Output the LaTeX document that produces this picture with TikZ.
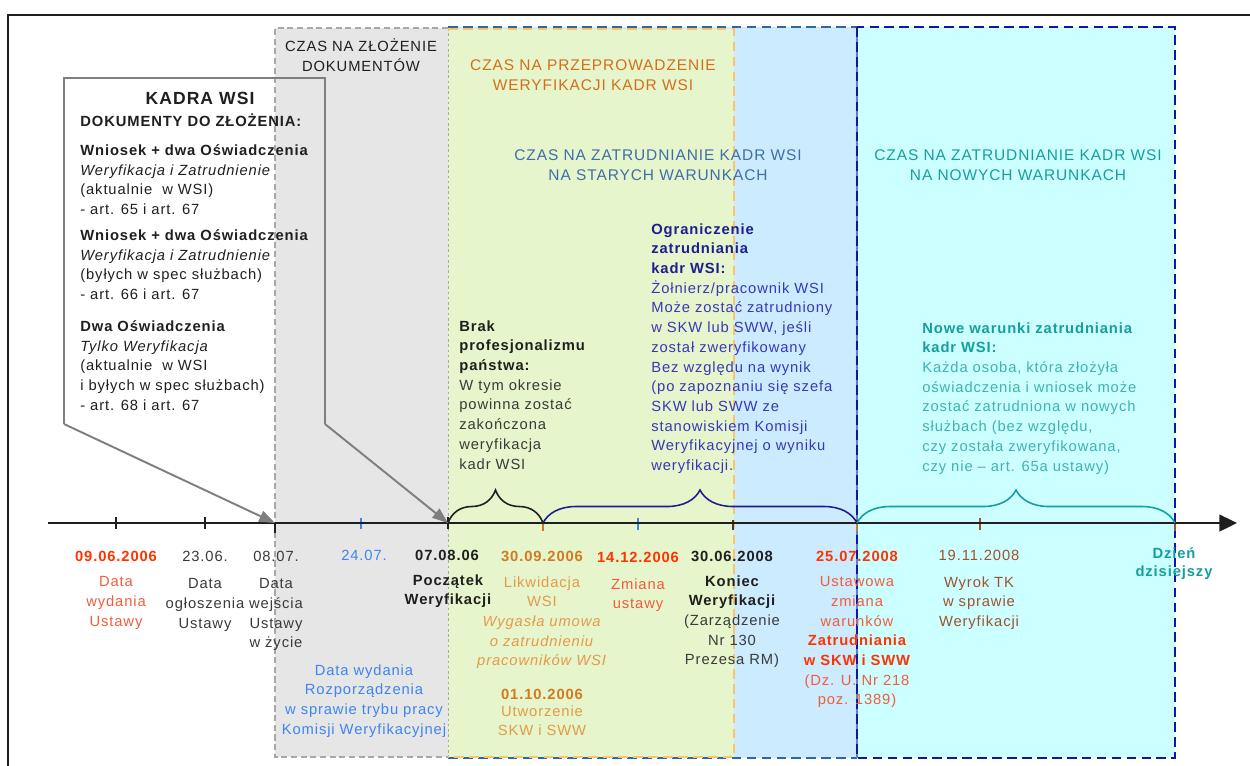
\documentclass[tikz,border=0pt]{standalone}
\usepackage{fontspec}
\setmainfont{Liberation Sans}[LetterSpace=6]
\usetikzlibrary{arrows.meta,decorations.pathreplacing}
\definecolor{fg}{HTML}{1F1F1F}
\definecolor{tgray}{HTML}{3A3A3A}
\definecolor{kgray}{HTML}{7F7F7F}
% Zeitfenster
\definecolor{zgray}{HTML}{E6E6E6}
\definecolor{zgrayln}{HTML}{A8A8A8}
\definecolor{zyel}{HTML}{E6F5CC}
\definecolor{zyelln}{HTML}{F7C66A}
\definecolor{zblue}{HTML}{CCEBFF}
\definecolor{zblueln}{HTML}{2F66AA}
\definecolor{zbluesep}{HTML}{5E80C8}
\definecolor{zcyan}{HTML}{CCFFFF}
\definecolor{zcyanln}{HTML}{1414A8}
% Schrift
\definecolor{horange}{HTML}{D2701A}
\definecolor{hblue}{HTML}{3E6FA6}
\definecolor{tealb}{HTML}{169E9E}
\definecolor{teall}{HTML}{40B2B2}
\definecolor{navy}{HTML}{1E1E8E}
\definecolor{navyl}{HTML}{3838B8}
\definecolor{dred}{HTML}{FF3300}
\definecolor{lred}{HTML}{F25C3C}
\definecolor{lblue}{HTML}{3D85F0}
\definecolor{dorange}{HTML}{D47A1E}
\definecolor{lorange}{HTML}{E49A48}
\definecolor{dbrown}{HTML}{A0522D}
\newcommand{\lblsize}{\fontsize{8.4}{11.2}\selectfont}
\newcommand{\hdrsize}{\fontsize{8.8}{11.4}\selectfont}
\tikzset{
  every picture/.style={fg, line join=miter},
  every node/.style={font=\lblsize, inner sep=0pt},
  % Ränder der Zeitfenster
  zoneln/.style={line width=1.1pt, dash pattern=on 5.5pt off 3pt},
  % Beschriftung: Position = Grundlinie der ersten Zeile (Strut 0.7 x 11.2pt)
  lbl/.style={align=center, anchor=north, yshift=7.84pt, execute at begin node=\strut},
  blk/.style={align=left, anchor=north west, yshift=7.84pt, execute at begin node=\strut},
  one/.style={align=center, anchor=base},
  bold/.style={font=\lblsize\bfseries},
  hdr/.style={font=\hdrsize},
  % Legende mit Zeigern
  kline/.style={kgray, line width=1.1pt, >={Triangle[length=9pt,width=6.5pt]}},
  axis/.style={fg, line width=1.1pt, -{Triangle[length=10pt,width=9.5pt]}},
  tick/.style={line width=0.6pt},
  span/.style={line width=0.9pt, decorate, decoration={brace, amplitude=0.66cm}},
}

\begin{document}
\begin{tikzpicture}[x=0.02cm, y=-0.02cm]
  \useasboundingbox (0,0) rectangle (1250,765);
  % Rahmen, nur oben und links im Bild
  \draw[fg, line width=1.2pt] (8,800) -- (8,15) -- (1280,15);
  % Zeitfenster: Flächen
  \fill[zgray] (275,28) rectangle (448,757);
  \fill[zblue] (448,27) rectangle (857,758);
  \fill[zyel] (448,29) rectangle (734,757);
  \fill[zcyan] (857,27) rectangle (1175,758);
  % Zeitfenster: Ränder
  \draw[zgrayln, line width=0.6pt, dash pattern=on 3.5pt off 2pt] (448,28) -- (275,28) -- (275,757) -- (448,757);
  \draw[zgrayln, line width=0.5pt, dash pattern=on 1.5pt off 1.5pt] (448,28) -- (448,757);
  \draw[zoneln, zblueln] (448,758) -- (857,758) (448,27) -- (857,27);
  \draw[zoneln, zyelln] (448,29) -- (734,29) -- (734,757) -- (448,757);
  \draw[zbluesep, line width=1.1pt] (857,27) -- (857,758);
  \draw[zoneln, zcyanln] (857,27) rectangle (1175,758);
  % Überschriften
  \node[lbl, fg] (hDok) at (361,52) {CZAS NA ZŁOŻENIE\\DOKUMENTÓW};
  \node[lbl, hdr, horange] (hWer) at (593,73) {CZAS NA PRZEPROWADZENIE\\WERYFIKACJI KADR WSI};
  \node[lbl, hdr, hblue] (hStare) at (658,163) {CZAS NA ZATRUDNIANIE KADR WSI\\NA STARYCH WARUNKACH};
  \node[lbl, hdr, tealb] (hNowe) at (1018,163) {CZAS NA ZATRUDNIANIE KADR WSI\\NA NOWYCH WARUNKACH};
  % Zeitachse
  \coordinate (ax0) at (48,523);
  \coordinate (ax1) at (1237,523);
  \foreach \n/\x in {0906/116, 2306/205, 0807/275, 2407/361, 0708/448, 3009/543,
                     1412/638, 3006/733, 2507/857, 1911/980, now/1175}
    \coordinate (t\n) at (\x,523);
  \foreach \n/\c/\u/\l in {0906/fg/-6/12, 2306/fg/-6/12, 0807/fg/0/10, 2407/lblue/-5/11,
                           0708/fg/-6/12, 3009/dorange/0/8, 1412/lblue/-5/12, 3006/tgray/-3/10,
                           2507/dorange/0/8, 1911/dbrown/-5/12, now/dbrown/0/8}
    \draw[tick, \c] (t\n) ++(0,\u) -- ++(0,\l);
  \draw[axis] (ax0) -- (ax1);
  % Klammern über der Achse
  \draw[span, fg] (t0708) -- (t3009);
  \draw[span, navy] (t3009) -- (t2507);
  \draw[span, tealb] (t2507) -- (tnow);
  % Legende KADRA WSI mit zwei Zeigern
  \coordinate (kSW) at (64,424);
  \coordinate (kNE) at (325,78);
  \coordinate (kSE) at (325,424);
  \draw[kline] (kSW) |- (kNE) -- (kSE);
  \draw[kline, ->] (kSW) -- (t0807);
  \draw[kline, ->] (kSE) -- (t0708);
  \node[one, font=\fontsize{10}{12}\selectfont\bfseries] (kTitle) at (200,104) {KADRA WSI};
  \node[blk, bold] (kSub) at (80,126) {DOKUMENTY DO ZŁOŻENIA:};
  \node[blk] (kDoc1) at (80,158) {\textbf{Wniosek + dwa Oświadczenia}\\\textit{Weryfikacja i Zatrudnienie}\\(aktualnie~ w WSI)\\- art. 65 i art. 67};
  \node[blk] (kDoc2) at (80,243) {\textbf{Wniosek + dwa Oświadczenia}\\\textit{Weryfikacja i Zatrudnienie}\\(byłych w spec służbach)\\- art. 66 i art. 67};
  \node[blk] (kDoc3) at (80,334) {\textbf{Dwa Oświadczenia}\\\textit{Tylko Weryfikacja}\\(aktualnie~ w WSI\\i byłych w spec służbach)\\- art. 68 i art. 67};
  % Erläuterungen in den Zeitfenstern
  \node[blk, tgray] (nBrak) at (459,334) {\textbf{\color{fg}Brak}\\\textbf{\color{fg}profesjonalizmu}\\\textbf{\color{fg}państwa:}\\W tym okresie\\powinna zostać\\zakończona\\weryfikacja\\kadr WSI};
  \node[blk, navyl] (nOgr) at (651,237) {\textbf{\color{navy}Ograniczenie}\\\textbf{\color{navy}zatrudniania}\\\textbf{\color{navy}kadr WSI:}\\Żołnierz/pracownik WSI\\Może zostać zatrudniony\\w SKW lub SWW, jeśli\\został zweryfikowany\\Bez względu na wynik\\(po zapoznaniu się szefa\\SKW lub SWW ze\\stanowiskiem Komisji\\Weryfikacyjnej o wyniku\\weryfikacji.};
  \node[blk, teall] (nNowe) at (922,336) {\textbf{\color{tealb}Nowe warunki zatrudniania}\\\textbf{\color{tealb}kadr WSI:}\\Każda osoba, która złożyła\\oświadczenia i wniosek może\\zostać zatrudniona w nowych\\służbach (bez względu,\\czy została zweryfikowana,\\czy nie – art. 65a ustawy)};
  % Daten unter der Achse
  \node[one, dred, bold] (l0906) at (116,561) {09.06.2006};
  \node[lbl, lred] (x0906) at (116,590) {Data\\wydania\\Ustawy};
  \node[one, tgray] (l2306) at (205,561) {23.06.};
  \node[lbl, tgray] (x2306) at (205,592) {Data\\ogłoszenia\\Ustawy};
  \node[one, tgray] (l0807) at (276,561) {08.07.};
  \node[lbl, tgray] (x0807) at (276,592) {Data\\wejścia\\Ustawy\\w życie};
  \node[one, lblue] (l2407) at (364,560) {24.07.};
  \node[lbl, lblue] (x2407) at (364,678) {Data wydania\\Rozporządzenia\\w sprawie trybu pracy\\Komisji Weryfikacyjnej};
  \node[one, bold] (l0708) at (447,560) {07.08.06};
  \node[lbl, bold] (x0708) at (448,588) {Początek\\Weryfikacji};
  \node[one, dorange, bold] (l3009) at (542,561) {30.09.2006};
  \node[lbl, lorange] (x3009) at (542,590) {Likwidacja\\WSI\\\textit{Wygasła umowa}\\\textit{o zatrudnieniu}\\\textit{pracowników WSI}};
  \node[one, dorange, bold] (l0110) at (542,699) {01.10.2006};
  \node[lbl, lorange] (x0110) at (542,719) {Utworzenie\\SKW i SWW};
  \node[one, dred, bold] (l1412) at (638,562) {14.12.2006};
  \node[lbl, lred] (x1412) at (638,592) {Zmiana\\ustawy};
  \node[one, bold] (l3006) at (732,561) {30.06.2008};
  \node[lbl, tgray] (x3006) at (732,589) {\textbf{\color{fg}Koniec}\\\textbf{\color{fg}Weryfikacji}\\(Zarządzenie\\Nr 130\\Prezesa RM)};
  \node[one, dred, bold] (l2507) at (857,561) {25.07.2008};
  \node[lbl, lred] (x2507) at (857,590) {Ustawowa\\zmiana\\warunków\\\textbf{\color{dred}Zatrudniania}\\\textbf{\color{dred}w SKW i SWW}\\(Dz. U. Nr 218\\poz. 1389)};
  \node[one, dbrown] (l1911) at (979,560) {19.11.2008};
  \node[lbl, dbrown] (x1911) at (979,590) {Wyrok TK\\w sprawie\\Weryfikacji};
  \node[one, tealb, font=\fontsize{8.4}{9.8}\selectfont\bfseries] (lNow) at (1174,576) {Dzień\\dzisiejszy};
\end{tikzpicture}
\end{document}
